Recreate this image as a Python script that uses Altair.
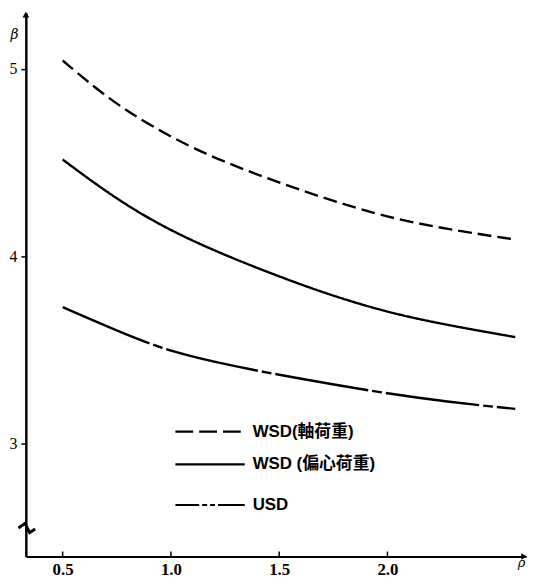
import altair as alt
import pandas as pd

# --- data ---
rho_axial = [0.50, 0.70, 0.90, 1.16, 1.54, 1.95, 2.26, 2.59]
beta_axial = [5.045, 4.85, 4.70, 4.54, 4.375, 4.22, 4.148, 4.09]

rho_ecc = [0.50, 0.77, 1.08, 1.54, 1.80, 2.10, 2.59]
beta_ecc = [4.517, 4.285, 4.084, 3.873, 3.77, 3.67, 3.57]

rho_usd = [0.50, 0.77, 1.00, 1.31, 1.54, 1.95, 2.28, 2.59]
beta_usd = [3.73, 3.594, 3.49, 3.41, 3.36, 3.277, 3.224, 3.187]

x_ticks = [0.5, 1.0, 1.5, 2.0]
y_ticks = [3, 4, 5]
labels = ["WSD(軸荷重)", "WSD (偏心荷重)", "USD"]

W, H = 505, 549

def series(r, b, name):
    return pd.DataFrame({"rho": r, "beta": b, "s": name})

xs = alt.Scale(domain=[0.33, 2.64], nice=False, zero=False)
ys = alt.Scale(domain=[2.4, 5.3], nice=False, zero=False)

xax = alt.Axis(values=x_ticks, format=".1f", ticks=False, grid=False,
               domainColor="black", domainWidth=2, labelFont="Liberation Serif",
               labelFontWeight="bold", labelFontSize=17, labelColor="black",
               labelPadding=5, title="ρ", titleFont="DejaVu Serif",
               titleFontStyle="italic", titleFontWeight="normal", titleFontSize=13,
               titleColor="black", titleX=496, titleY=0, titleAnchor="start")
yax = alt.Axis(values=y_ticks, format="d", grid=False, tickSize=5, tickWidth=1.5,
               tickColor="black", domainColor="black", domainWidth=2.5,
               labelFont="Liberation Serif", labelFontSize=16, labelColor="black",
               labelPadding=4, title="β", titleAngle=0, titleFont="DejaVu Serif",
               titleFontStyle="italic", titleFontWeight="normal", titleFontSize=14,
               titleColor="black", titleX=-12, titleY=22, titleAlign="center",
               titleBaseline="middle")

X = alt.X("rho:Q", scale=xs, axis=xax, title="ρ")
Y = alt.Y("beta:Q", scale=ys, axis=yax, title="β")

def line(df, dash):
    return alt.Chart(df).mark_line(color="black", strokeWidth=2.4,
                                   strokeDash=dash, interpolate="basis").encode(x=X, y=Y)

l1 = line(series(rho_axial, beta_axial, labels[0]), [14, 6])
l2 = line(series(rho_ecc, beta_ecc, labels[1]), [1, 0])
l3 = line(series(rho_usd, beta_usd, labels[2]), [95, 4, 10, 4])

tick_df = pd.DataFrame({"rho": x_ticks})
xticks = alt.Chart(tick_df).mark_rule(color="black", strokeWidth=1.5).encode(
    x=X, y=alt.value(H), y2=alt.value(H - 5))

arrow_y = alt.Chart(pd.DataFrame({"a": [0]})).mark_point(
    shape="triangle-up", filled=True, color="black", size=45, opacity=1).encode(
    x=alt.value(0), y=alt.value(2))
arrow_x = alt.Chart(pd.DataFrame({"a": [0]})).mark_point(
    shape="triangle-right", filled=True, color="black", size=45, opacity=1).encode(
    x=alt.value(W - 2), y=alt.value(H))
brk = alt.Chart(pd.DataFrame({"a": [0]})).mark_point(
    shape="M -0.9 -0.4 L -0.2 -0.9 L 0.3 0.1 L 0.9 -0.3", filled=False,
    color="black", strokeWidth=3, size=350, opacity=1).encode(
    x=alt.value(1), y=alt.value(524))

# legend (drawn manually)
leg_rows = [423, 456, 497]
leg_dash = [[18, 6], [1, 0], [24, 3, 5, 3, 5, 3, 30]]
leg_layers = []
for lab, yy, dash in zip(labels, leg_rows, leg_dash):
    d = pd.DataFrame({"s": [lab]})
    leg_layers.append(alt.Chart(d).mark_rule(color="black", strokeWidth=2.2,
                                             strokeDash=dash).encode(
        x=alt.value(151), x2=alt.value(221), y=alt.value(yy)))
    leg_layers.append(alt.Chart(d).mark_text(
        align="left", baseline="middle", fontSize=17, fontWeight="bold",
        font="Liberation Sans, Noto Sans CJK TC", color="black").encode(
        text="s:N", x=alt.value(229), y=alt.value(yy)))

chart = alt.layer(l1, l2, l3, xticks, arrow_y, arrow_x, brk, *leg_layers).properties(
    width=W, height=H,
    autosize=alt.AutoSizeParams(type="none"),
    padding={"left": 18, "top": 2, "right": 6, "bottom": 22},
    background="white",
).configure_view(stroke=None)

chart.save("out.html", embed_options={"renderer": "svg", "actions": False})
